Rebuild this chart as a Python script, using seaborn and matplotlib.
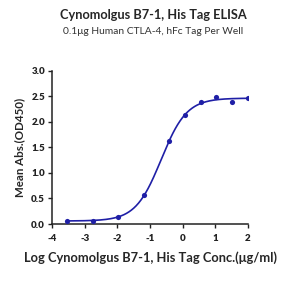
import numpy as np
import pandas as pd
import matplotlib
matplotlib.use("Agg")
import matplotlib.pyplot as plt
import seaborn as sns

log_conc = [-3.53, -2.76, -1.97, -1.19, -0.41, 0.06, 0.55, 1.02, 1.50, 1.99]
od450 = [0.06, 0.065, 0.14, 0.56, 1.62, 2.13, 2.38, 2.48, 2.38, 2.47]
x_ticks = [-4, -3, -2, -1, 0, 1, 2]
y_ticks = [0.0, 0.5, 1.0, 1.5, 2.0, 2.5, 3.0]

title = "Cynomolgus B7-1, His Tag ELISA"
subtitle = "0.1\u03bcg Human CTLA-4, hFc Tag Per Well"
xlabel = "Log Cynomolgus B7-1, His Tag Conc.(\u03bcg/ml)"
ylabel = "Mean Abs.(OD450)"

x = np.array(log_conc)
y = np.array(od450)

def f4(p, xx):
    b, t, c, h = p
    return b + (t - b) / (1 + 10 ** ((c - xx) * h))

# Levenberg-Marquardt fit of 4PL
p = np.array([0.05, 2.45, -0.6, 1.0])
lam = 1e-3
for _ in range(200):
    r = y - f4(p, x)
    J = np.zeros((len(x), 4))
    for i in range(4):
        dp = np.zeros(4); dp[i] = 1e-6
        J[:, i] = (f4(p + dp, x) - f4(p, x)) / 1e-6
    A = J.T @ J + lam * np.eye(4)
    step = np.linalg.solve(A, J.T @ r)
    pn = p + step
    if np.sum((y - f4(pn, x)) ** 2) < np.sum(r ** 2):
        p = pn; lam *= 0.5
    else:
        lam *= 4

xf = np.linspace(x.min(), x.max(), 300)
fit = pd.DataFrame({"x": xf, "y": f4(p, xf)})
pts = pd.DataFrame({"x": x, "y": y})

sns.set_theme(style="ticks")
plt.rcParams['font.family'] = ['Lato', 'DejaVu Sans']

color = "#1f1fa6"
fig = plt.figure(figsize=(3.07, 2.82), dpi=100)
ax = fig.add_axes([52/307, 1-224/282, 196/307, (224-70.7)/282])
sns.lineplot(data=fit, x="x", y="y", ax=ax, color=color, linewidth=1.2)
sns.scatterplot(data=pts, x="x", y="y", ax=ax, color=color, s=14, edgecolor=color, linewidth=0, zorder=3)

ax.set_xlim(-4, 2)
ax.set_ylim(0, 3)
ax.set_xticks(x_ticks)
ax.set_xticklabels([str(t) for t in x_ticks])
ax.set_yticks(y_ticks)
ax.set_yticklabels([f"{t:.1f}" for t in y_ticks])
for s in ["top", "right"]:
    ax.spines[s].set_visible(False)
for s in ["left", "bottom"]:
    ax.spines[s].set_linewidth(1.1)
    ax.spines[s].set_color("#222222")
ax.tick_params(axis="both", direction="out", length=3, width=1.0, labelsize=7, colors="#222222")
ax.tick_params(axis="x", pad=4)
ax.tick_params(axis="y", pad=2)
for lab in ax.get_xticklabels() + ax.get_yticklabels():
    lab.set_fontweight("heavy")
ax.set_xlabel(xlabel, fontsize=9.3, fontweight="bold", labelpad=6)
ax.set_ylabel(ylabel, fontsize=8.3, fontweight="bold", labelpad=4)

fig.text(0.5, 1-15/282, title, ha="center", va="center", fontsize=9.2, fontweight="bold")
fig.text(0.5, 1-31/282, subtitle, ha="center", va="center", fontsize=7.4, color="#333333")

fig.savefig("out.png", dpi=100)
